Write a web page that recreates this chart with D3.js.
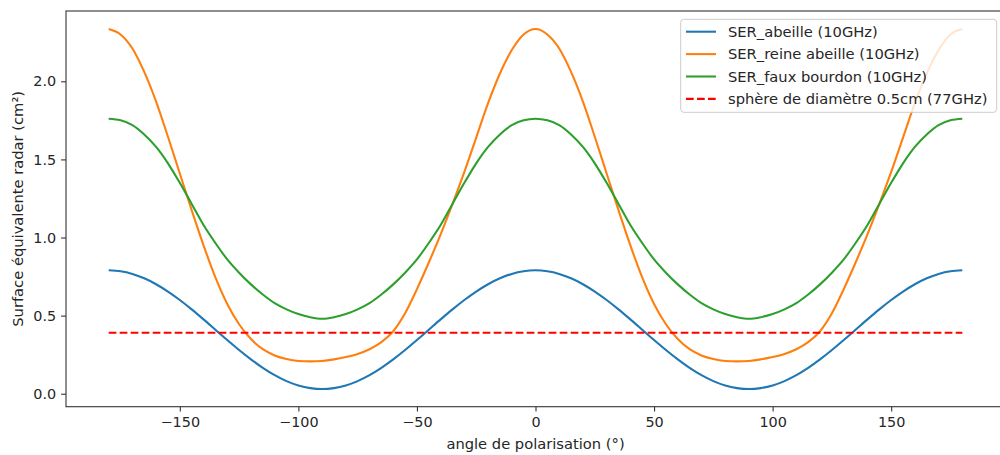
<!DOCTYPE html>
<html>
<head>
<meta charset="utf-8">
<script src="https://cdn.jsdelivr.net/npm/d3@7"></script>
<style>
  html, body { margin: 0; padding: 0; background: #fff; }
  svg { display: block; font-family: "DejaVu Sans", sans-serif; }
</style>
</head>
<body>
<svg id="chart" width="1000" height="455"></svg>
<script>
// ---- data (every 5 degrees) ----
const angles = [-180,-175,-170,-165,-160,-155,-150,-145,-140,-135,-130,-125,-120,-115,-110,-105,-100,-95,-90,
                -85,-80,-75,-70,-65,-60,-55,-50,-45,-40,-35,-30,-25,-20,-15,-10,-5,0,
                5,10,15,20,25,30,35,40,45,50,55,60,65,70,75,80,85,90,
                95,100,105,110,115,120,125,130,135,140,145,150,155,160,165,170,175,180];
const serAbeille = [0.79,0.784,0.767,0.739,0.701,0.654,0.60,0.54,0.476,0.41,0.344,0.28,0.22,0.166,0.119,0.081,0.053,0.036,0.03,
                    0.036,0.053,0.081,0.119,0.166,0.22,0.28,0.344,0.41,0.476,0.54,0.60,0.654,0.701,0.739,0.767,0.784,0.79,
                    0.784,0.767,0.739,0.701,0.654,0.60,0.54,0.476,0.41,0.344,0.28,0.22,0.166,0.119,0.081,0.053,0.036,0.03,
                    0.036,0.053,0.081,0.119,0.166,0.22,0.28,0.344,0.41,0.476,0.54,0.60,0.654,0.701,0.739,0.767,0.784,0.79];
const serReine = [2.335,2.30,2.21,2.06,1.87,1.645,1.41,1.175,0.95,0.745,0.575,0.445,0.35,0.285,0.245,0.222,0.21,0.207,0.21,
                  0.22,0.235,0.255,0.285,0.33,0.40,0.515,0.67,0.84,1.02,1.215,1.42,1.64,1.86,2.05,2.20,2.30,2.335,
                  2.30,2.21,2.06,1.87,1.645,1.41,1.175,0.95,0.745,0.575,0.445,0.35,0.285,0.245,0.222,0.21,0.207,0.21,
                  0.22,0.235,0.255,0.285,0.33,0.40,0.515,0.67,0.84,1.02,1.215,1.42,1.64,1.86,2.05,2.20,2.30,2.335];
const serFaux = [1.76,1.75,1.72,1.66,1.58,1.475,1.35,1.215,1.08,0.965,0.86,0.775,0.70,0.635,0.58,0.54,0.51,0.49,0.48,
                 0.49,0.51,0.54,0.58,0.635,0.70,0.775,0.86,0.965,1.08,1.215,1.35,1.475,1.58,1.66,1.72,1.75,1.76,
                 1.75,1.72,1.66,1.58,1.475,1.35,1.215,1.08,0.965,0.86,0.775,0.70,0.635,0.58,0.54,0.51,0.49,0.48,
                 0.49,0.51,0.54,0.58,0.635,0.70,0.775,0.86,0.965,1.08,1.215,1.35,1.475,1.58,1.66,1.72,1.75,1.76];
const sphereAngles = [-180, 180];
const sphereValues = [0.39, 0.39];

const seriesNames = ["SER_abeille (10GHz)", "SER_reine abeille (10GHz)", "SER_faux bourdon (10GHz)", "sphère de diamètre 0.5cm (77GHz)"];
const seriesColors = ["#1f77b4", "#ff7f0e", "#2ca02c", "#ff0000"];
const xTicks = [-150, -100, -50, 0, 50, 100, 150];
const yTicks = [0.0, 0.5, 1.0, 1.5, 2.0];
const xLabel = "angle de polarisation (°)";
const yLabel = "Surface équivalente radar (cm²)";

// ---- layout ----
const svg = d3.select("#chart");
const L = 66, R = 1005, T = 11, B = 406.7;
const x = d3.scaleLinear().domain([-198, 198]).range([L, R]);
const y = d3.scaleLinear().domain([-0.083, 2.45]).range([B, T]);

const fontSize = 14.7;
const tickFontSize = 14.4;
const textColor = "#262626";

// lines
const line = d3.line().x(d => x(d[0])).y(d => y(d[1])).curve(d3.curveMonotoneX);
const seriesData = [
  d3.zip(angles, serAbeille),
  d3.zip(angles, serReine),
  d3.zip(angles, serFaux),
  d3.zip(sphereAngles, sphereValues)
];

const plot = svg.append("g");
seriesData.forEach((data, i) => {
  plot.append("path")
    .datum(data)
    .attr("fill", "none")
    .attr("stroke", seriesColors[i])
    .attr("stroke-width", 2.08)
    .attr("stroke-linejoin", "round")
    .attr("stroke-dasharray", i === 3 ? "7.7,3.3" : null)
    .attr("d", line);
});

// axes
const xAxis = d3.axisBottom(x).tickValues(xTicks).tickSize(4.9).tickPadding(4.9)
  .tickFormat(d => d3.format("d")(d).replace("-", "−"));
const yAxis = d3.axisLeft(y).tickValues(yTicks).tickSize(4.9).tickPadding(4.9)
  .tickFormat(d3.format(".1f"));

const gx = svg.append("g").attr("transform", `translate(0,${B})`).call(xAxis);
const gy = svg.append("g").attr("transform", `translate(${L},0)`).call(yAxis);
[gx, gy].forEach(g => {
  g.select(".domain").remove();
  g.selectAll(".tick line").attr("stroke", "#333").attr("stroke-width", 1.1);
  g.selectAll(".tick text").attr("fill", textColor).attr("font-size", tickFontSize)
    .attr("font-family", "DejaVu Sans, sans-serif");
});

// frame
svg.append("rect")
  .attr("x", L).attr("y", T).attr("width", R - L).attr("height", B - T)
  .attr("fill", "none").attr("stroke", "#333").attr("stroke-width", 1.1);

// axis labels
svg.append("text")
  .attr("x", (L + R) / 2).attr("y", 448.5)
  .attr("text-anchor", "middle").attr("font-size", fontSize).attr("fill", textColor)
  .text(xLabel);
svg.append("text")
  .attr("transform", `translate(23,${(T + B) / 2}) rotate(-90)`)
  .attr("text-anchor", "middle").attr("font-size", fontSize).attr("fill", textColor)
  .text(yLabel);

// legend
const lg = svg.append("g");
lg.append("rect")
  .attr("x", 680.7).attr("y", 19.3).attr("width", 316).attr("height", 93)
  .attr("rx", 3).attr("ry", 3)
  .attr("fill", "#fff").attr("fill-opacity", 0.8)
  .attr("stroke", "#cccccc").attr("stroke-width", 1);
seriesNames.forEach((name, i) => {
  const cy = 31.7 + 22.4 * i;
  lg.append("line")
    .attr("x1", 686).attr("x2", 716).attr("y1", cy).attr("y2", cy)
    .attr("stroke", seriesColors[i]).attr("stroke-width", 2.08)
    .attr("stroke-dasharray", i === 3 ? "7.7,3.3" : null);
  lg.append("text")
    .attr("x", 728).attr("y", cy).attr("dy", "0.35em")
    .attr("font-size", fontSize).attr("fill", textColor)
    .text(name);
});
</script>
</body>
</html>
